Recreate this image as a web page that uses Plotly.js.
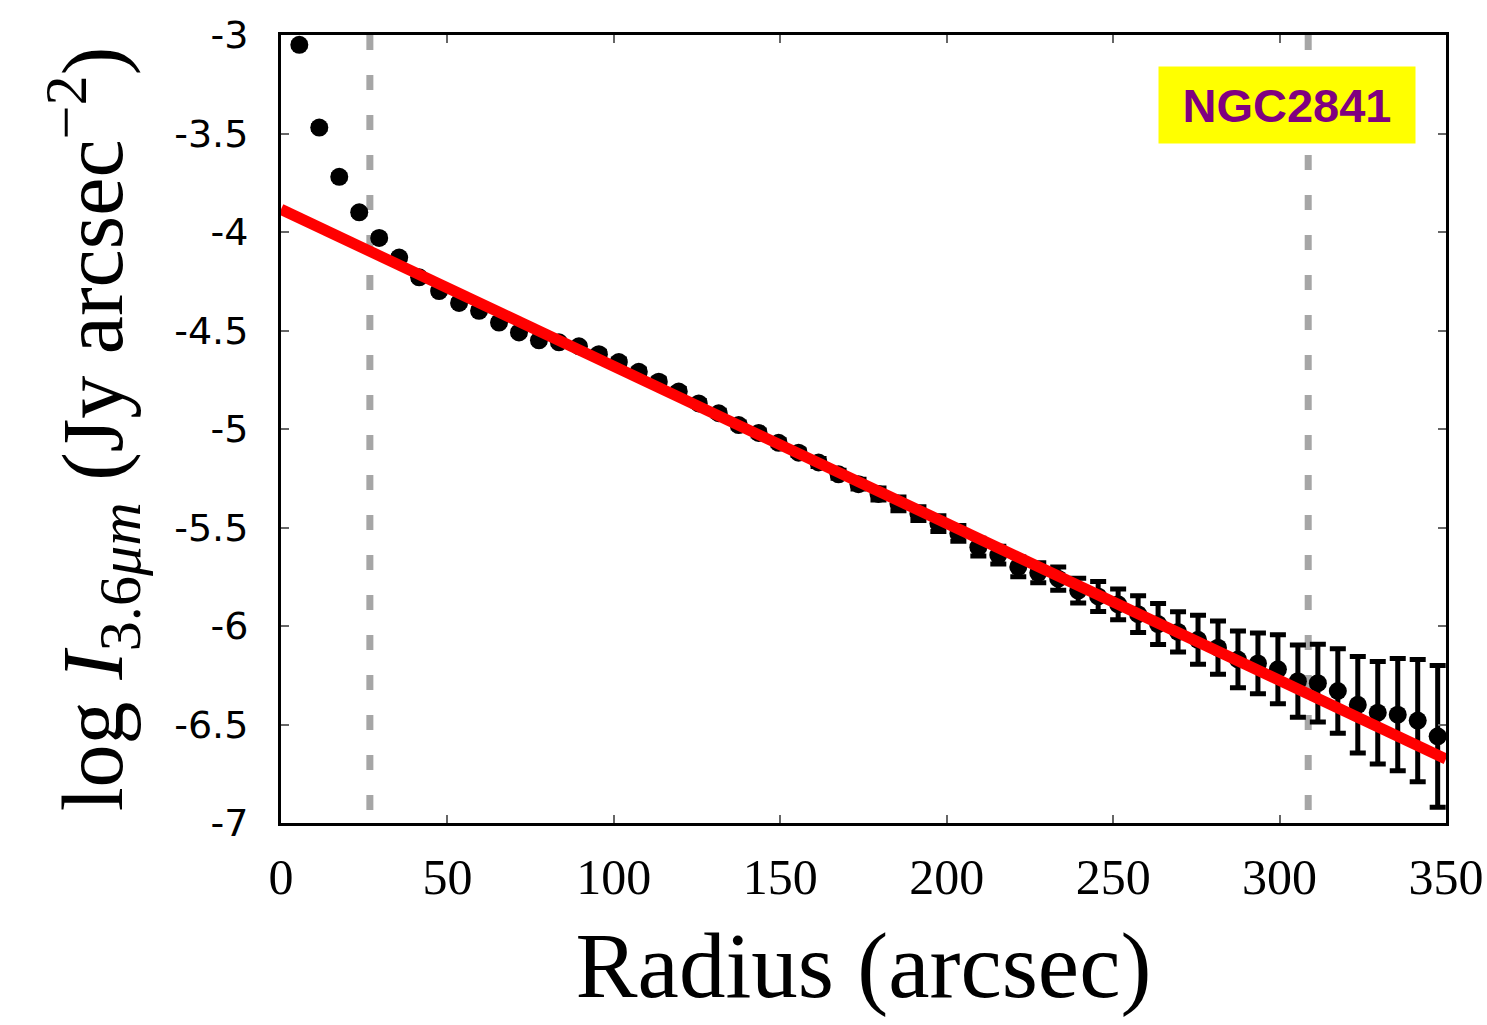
<!DOCTYPE html>
<html><head><meta charset="utf-8">
<script src="https://cdn.plot.ly/plotly-3.0.1.min.js"></script>
<style>html,body{margin:0;padding:0;background:#fff}</style>
</head><body>
<div id="chart" style="width:1487px;height:1025px"></div>
<script>
// Radial profile (arcsec) and log surface brightness at 3.6 micron
const radius = [5.5, 11.5, 17.5, 23.5, 29.5, 35.5, 41.5, 47.5, 53.5, 59.5,
  65.5, 71.5, 77.5, 83.5, 89.5, 95.5, 101.5, 107.5, 113.5, 119.5,
  125.5, 131.5, 137.5, 143.5, 149.5, 155.5, 161.5, 167.5, 173.5, 179.5,
  185.5, 191.5, 197.5, 203.5, 209.5, 215.5, 221.5, 227.5, 233.5, 239.5,
  245.5, 251.5, 257.5, 263.5, 269.5, 275.5, 281.5, 287.5, 293.5, 299.5,
  305.5, 311.5, 317.5, 323.5, 329.5, 335.5, 341.5, 347.5];
const logI = [-3.05, -3.47, -3.72, -3.90, -4.03, -4.13, -4.23, -4.30, -4.36, -4.40,
  -4.46, -4.51, -4.55, -4.56, -4.58, -4.62, -4.66, -4.71, -4.76, -4.81,
  -4.87, -4.92, -4.98, -5.02, -5.07, -5.12, -5.17, -5.23, -5.28, -5.33,
  -5.38, -5.43, -5.48, -5.53, -5.60, -5.64, -5.70, -5.73, -5.76, -5.82,
  -5.85, -5.89, -5.94, -5.99, -6.03, -6.07, -6.11, -6.17, -6.19, -6.22,
  -6.28, -6.29, -6.33, -6.40, -6.44, -6.45, -6.48, -6.56];
const logIErr = [0.01, 0.01, 0.01, 0.01, 0.01, 0.01, 0.01, 0.01, 0.01, 0.01,
  0.01, 0.01, 0.01, 0.01, 0.01, 0.015, 0.015, 0.015, 0.015, 0.015,
  0.015, 0.015, 0.015, 0.015, 0.015, 0.015, 0.02, 0.02, 0.025, 0.03,
  0.035, 0.035, 0.04, 0.04, 0.045, 0.045, 0.05, 0.051, 0.059, 0.063,
  0.076, 0.078, 0.093, 0.104, 0.102, 0.124, 0.135, 0.144, 0.154, 0.175,
  0.183, 0.197, 0.215, 0.245, 0.26, 0.285, 0.31, 0.36];

// Exponential-disc fit (straight line in log space)
const fitRadius = [0, 350];
const fitLogI = [-3.885, -6.675];

// Fit range limits (vertical dashed lines)
const innerLimit = [26.7, 26.7];
const outerLimit = [308.6, 308.6];
const limitY = [-3, -7];

const xTickVals = [0, 50, 100, 150, 200, 250, 300, 350];
const xTickText = ['0', '50', '100', '150', '200', '250', '300', '350'];
const yTickVals = [-7, -6.5, -6, -5.5, -5, -4.5, -4, -3.5, -3];
const yTickText = ['-7', '-6.5', '-6', '-5.5', '-5', '-4.5', '-4', '-3.5', '-3'];
const galaxyName = 'NGC2841';
const labelPos = {x: 302.3, y: -3.355};

const dashStyle = {color: '#a6a6a6', width: 7, dash: '15px,25px'};
const traces = [
  {x: innerLimit, y: limitY, mode: 'lines', line: dashStyle, hoverinfo: 'skip'},
  {x: outerLimit, y: limitY, mode: 'lines', line: dashStyle, hoverinfo: 'skip'},
  {x: radius, y: logI, mode: 'markers', type: 'scatter',
   marker: {size: 18, color: '#000'},
   error_y: {type: 'data', array: logIErr, visible: true, color: '#000', thickness: 5, width: 8}},
  {x: fitRadius, y: fitLogI, mode: 'lines', line: {color: '#ff0000', width: 11}}
];

const serif = 'Liberation Serif, Times New Roman, serif';
const layout = {
  width: 1487, height: 1025,
  margin: {l: 281, r: 41, t: 35, b: 202, pad: 0},
  paper_bgcolor: '#fff', plot_bgcolor: '#fff',
  showlegend: false,
  xaxis: {
    range: [0, 350], tickvals: xTickVals, ticktext: xTickText,
    ticks: 'inside', ticklen: 8, tickwidth: 2, tickcolor: '#666',
    showline: true, linewidth: 3, linecolor: '#000', mirror: 'ticks',
    showgrid: false, zeroline: false,
    tickfont: {family: serif, size: 50, color: '#000'},
    ticklabelstandoff: 8,
    title: {text: 'Radius (arcsec)', font: {family: serif, size: 93, color: '#000'}, standoff: 28}
  },
  yaxis: {
    range: [-7, -3], tickvals: yTickVals, ticktext: yTickText,
    ticks: 'inside', ticklen: 8, tickwidth: 2, tickcolor: '#666',
    showline: true, linewidth: 3, linecolor: '#000', mirror: 'ticks',
    showgrid: false, zeroline: false,
    tickfont: {family: 'DejaVu Sans, sans-serif', size: 38, color: '#000'},
    ticklabelstandoff: 22,
    title: {text: 'log <i>I</i><sub>3.6<i>μm</i></sub> (Jy arcsec<sup>−2</sup>)',
            font: {family: serif, size: 86, color: '#000'}, standoff: 24}
  },
  annotations: [{
    x: labelPos.x, y: labelPos.y, xref: 'x', yref: 'y',
    text: '<b>' + galaxyName + '</b>', showarrow: false,
    bgcolor: '#ffff00', width: 256, height: 76, borderpad: 0,
    xanchor: 'center', yanchor: 'middle',
    font: {family: 'Liberation Sans, Arial, sans-serif', size: 47, color: '#800080'}
  }]
};

Plotly.newPlot('chart', traces, layout, {displayModeBar: false, staticPlot: true});
</script>
</body></html>
